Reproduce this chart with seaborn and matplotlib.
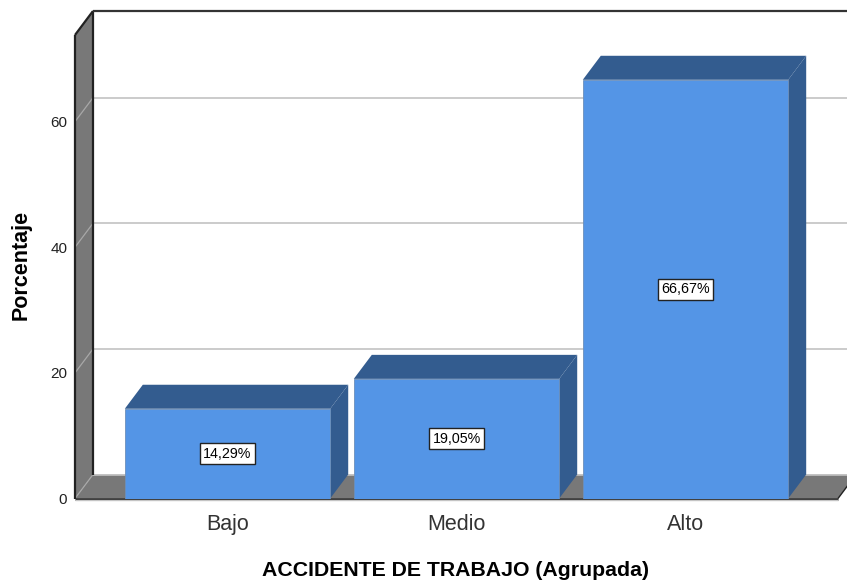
import matplotlib
matplotlib.use("Agg")
import matplotlib.pyplot as plt
import pandas as pd
import seaborn as sns
from matplotlib.patches import Polygon

categories = ["Bajo", "Medio", "Alto"]
percentages = [14.29, 19.05, 66.67]
y_ticks = [0, 20, 40, 60]

BAR_FRONT = "#5495E6"
BAR_DARK = "#335C8F"
WALL = "#787878"
GRID = "#BDBDBD"

W, H = 847, 584
LEFT, RIGHT, TOP, BOTTOM = 75, 838, 35, 498.5
DEPTH_X, DEPTH_Y = 18, 24  # pixels, for the fake 3d depth

sns.set_style("white")
plt.rcParams["font.family"] = ["Liberation Sans", "DejaVu Sans"]

df = pd.DataFrame({"grupo": categories, "pct": percentages})

fig = plt.figure(figsize=(W / 100, H / 100), dpi=100)
ax = fig.add_axes([LEFT / W, 1 - BOTTOM / H, (RIGHT - LEFT) / W, (BOTTOM - TOP) / H])
ax.patch.set_alpha(0)

sns.barplot(data=df, x="grupo", y="pct", order=categories, color=BAR_FRONT,
            saturation=1, width=0.897, linewidth=0.6, edgecolor="#6C8FBA",
            zorder=5, ax=ax)

ax.set_xlim(-0.666, 2.666)
ax.set_ylim(0, 73.8)
dx = DEPTH_X * (ax.get_xlim()[1] - ax.get_xlim()[0]) / (RIGHT - LEFT)
dy = DEPTH_Y * ax.get_ylim()[1] / (BOTTOM - TOP)
xl, xr = ax.get_xlim()
ymax = ax.get_ylim()[1]


def poly(points, color, z, edge="none", lw=0):
    ax.add_patch(Polygon(points, closed=True, facecolor=color, edgecolor=edge,
                         linewidth=lw, zorder=z, clip_on=False))


def line(xs, ys, color, lw, z):
    ax.plot(xs, ys, color=color, lw=lw, zorder=z, clip_on=False,
            solid_capstyle="butt")


# left wall and floor
poly([(xl, 0), (xl + dx, dy), (xl + dx, ymax + dy), (xl, ymax)], WALL, 1)
poly([(xl, 0), (xr, 0), (xr + dx, dy), (xl + dx, dy)], WALL, 1)

# gridlines on the back plane, with a diagonal across the wall
for t in y_ticks[1:]:
    line([xl + dx, xr + dx], [t + dy, t + dy], GRID, 1.1, 2)
    line([xl, xl + dx], [t, t + dy], "#A8A8A8", 0.9, 2)
line([xl, xl + dx], [0, dy], "#A8A8A8", 0.9, 2)
line([xl + dx, xr + dx], [dy, dy], "#C8C8C8", 1.1, 2)

# frame
line([xl, xl], [0, ymax], "#222222", 1.6, 3)
line([xl + dx, xl + dx], [dy, ymax + dy], "#222222", 1.6, 3)
line([xl, xl + dx], [ymax, ymax + dy], "#222222", 1.6, 3)
line([xl + dx, xr + dx], [ymax + dy, ymax + dy], "#333333", 1.6, 3)
line([xl, xr], [0, 0], "#222222", 1.8, 3)
line([xl, xr], [-0.28, -0.28], "#C4C4C4", 1.0, 3)
line([xr, xr + dx], [0, dy], "#222222", 1.0, 2)

# top and side faces of each bar
for bar in ax.containers[0]:
    x0, x1, h = bar.get_x(), bar.get_x() + bar.get_width(), bar.get_height()
    poly([(x0, h), (x1, h), (x1 + dx, h + dy), (x0 + dx, h + dy)], BAR_DARK, 4)
    poly([(x1, 0), (x1 + dx, dy), (x1 + dx, h + dy), (x1, h)], BAR_DARK, 4)

labels = [f"{v:.2f}%".replace(".", ",") for v in percentages]
ax.bar_label(ax.containers[0], labels=labels, label_type="center", fontsize=10.3,
             color="black", zorder=6,
             bbox=dict(boxstyle="square,pad=0.25", facecolor="white",
                       edgecolor="#222222", linewidth=1.0))

for side in ax.spines.values():
    side.set_visible(False)

ax.set_yticks(y_ticks)
ax.tick_params(axis="y", length=0, pad=5.5, labelsize=11, labelcolor="#222222")
ax.tick_params(axis="x", length=0, pad=11, labelsize=15.5, labelcolor="#333333")
ax.set_xlabel("ACCIDENTE DE TRABAJO (Agrupada)", fontsize=15.3, fontweight="bold",
              color="black")
ax.xaxis.set_label_coords((455.5 - LEFT) / (RIGHT - LEFT), -(570 - BOTTOM) / (BOTTOM - TOP))
ax.xaxis.label.set_va("center")
ax.set_ylabel("Porcentaje", fontsize=15.5, fontweight="bold", color="black")
ax.yaxis.set_label_coords(-(LEFT - 21) / (RIGHT - LEFT), (BOTTOM - 265) / (BOTTOM - TOP))
ax.yaxis.label.set_va("center")

fig.savefig("out.png", dpi=100)
